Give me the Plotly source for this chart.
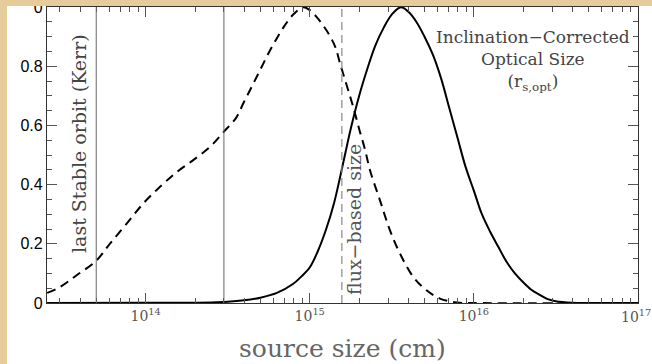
import plotly.graph_objects as go

# Source size (cm) and normalised distributions
dashed_size = [2.51e13, 3.01e13, 3.80e13, 4.98e13, 6.05e13, 7.66e13, 9.66e13,
               1.22e14, 1.55e14, 1.95e14, 2.47e14, 3.01e14, 3.55e14, 3.98e14,
               4.47e14, 5.01e14, 5.62e14, 6.31e14, 7.08e14, 7.94e14, 9.12e14,
               1.00e15, 1.10e15, 1.20e15, 1.30e15, 1.43e15, 1.53e15, 1.68e15,
               1.84e15, 2.02e15, 2.17e15, 2.33e15, 2.68e15, 3.08e15, 3.55e15,
               4.28e15, 5.15e15, 6.21e15, 7.85e15, 1.00e16, 1.0e17]
dashed_prob = [0.034, 0.054, 0.094, 0.142, 0.200, 0.268, 0.336,
               0.392, 0.443, 0.483, 0.528, 0.580, 0.625, 0.680,
               0.735, 0.790, 0.845, 0.895, 0.940, 0.975, 1.000,
               0.990, 0.967, 0.940, 0.911, 0.866, 0.810, 0.736,
               0.663, 0.580, 0.520, 0.449, 0.347, 0.246, 0.167,
               0.088, 0.043, 0.015, 0.002, 0.0, 0.0]

optical_size = [2.51e13, 1.0e14, 2.51e14, 3.16e14, 3.98e14, 5.01e14, 6.31e14,
                7.94e14, 8.91e14, 1.00e15, 1.12e15, 1.26e15, 1.41e15, 1.58e15,
                1.78e15, 2.00e15, 2.24e15, 2.51e15, 2.82e15, 3.16e15, 3.60e15,
                3.98e15, 4.47e15, 5.01e15, 5.62e15, 6.31e15, 7.08e15, 7.94e15,
                8.91e15, 1.00e16, 1.12e16, 1.26e16, 1.41e16, 1.58e16, 1.78e16,
                2.00e16, 2.24e16, 2.51e16, 2.82e16, 3.16e16, 3.98e16, 5.01e16,
                1.0e17]
optical_prob = [0.0, 0.0005, 0.002, 0.004, 0.009, 0.018, 0.034,
                0.065, 0.090, 0.120, 0.175, 0.250, 0.340, 0.460,
                0.590, 0.700, 0.790, 0.870, 0.930, 0.975, 1.000,
                0.985, 0.950, 0.900, 0.840, 0.760, 0.660, 0.560,
                0.460, 0.380, 0.300, 0.240, 0.190, 0.140, 0.100,
                0.070, 0.045, 0.028, 0.013, 0.006, 0.001, 0.0,
                0.0]

# Reference sizes (cm)
isco_sizes = [5.0e13, 3.0e14]
flux_size = 1.57e15

x_major = [1e14, 1e15, 1e16, 1e17]
x_major_text = ["10<sup>14</sup>", "10<sup>15</sup>", "10<sup>16</sup>", ""]
x_edge_text = "10<sup>17</sup>"
y_major = [0, 0.2, 0.4, 0.6, 0.8, 1.0]
y_major_text = ["0", "0.2", "0.4", "0.6", "0.8", "0"]

x_minor = [k * 10.0 ** d for d in range(13, 17) for k in range(2, 10)]

W, H = 652, 364
ML, MR, MT, MB = 47, 14, 7, 61
PW, PH = W - ML - MR, H - MT - MB


def px_x(p):
    return (p - ML) / PW


def px_y(p):
    return (H - MB - p) / PH


fig = go.Figure()

fig.add_trace(go.Scatter(
    x=dashed_size, y=dashed_prob, mode="lines",
    line=dict(color="black", width=2, dash="9px,6px", shape="spline", smoothing=1.0),
    showlegend=False, hoverinfo="skip"))
fig.add_trace(go.Scatter(
    x=optical_size, y=optical_prob, mode="lines",
    line=dict(color="black", width=2, shape="spline", smoothing=1.0),
    showlegend=False, hoverinfo="skip"))

shapes = []
for s in isco_sizes:
    shapes.append(dict(type="line", xref="x", yref="y", x0=s, x1=s, y0=0, y1=1,
                       line=dict(color="#666666", width=1)))
shapes.append(dict(type="line", xref="x", yref="y", x0=flux_size, x1=flux_size,
                   y0=0, y1=1, line=dict(color="#888888", width=1.2, dash="8px,5px")))
# parchment border strips
shapes.append(dict(type="rect", xref="paper", yref="paper", layer="above",
                   x0=px_x(0), x1=px_x(7), y0=px_y(H), y1=px_y(0),
                   fillcolor="#e6cc9b", line=dict(width=0)))
shapes.append(dict(type="rect", xref="paper", yref="paper", layer="above",
                   x0=px_x(0), x1=px_x(W), y0=px_y(6), y1=px_y(0),
                   fillcolor="#e6cc9b", line=dict(width=0)))

serif = "DejaVu Serif"
annotations = [
    dict(text="last Stable orbit (Kerr)", textangle=-90, xref="paper", yref="paper",
         x=px_x(79), y=px_y(144), showarrow=False, xanchor="center", yanchor="middle",
         font=dict(family=serif, size=19, color="#444444")),
    dict(text="flux\u2212based size", textangle=-90, xref="paper", yref="paper",
         x=px_x(354), y=px_y(220), showarrow=False, xanchor="center", yanchor="middle",
         font=dict(family=serif, size=19, color="#555555")),
    dict(text="Inclination\u2212Corrected<br>Optical Size<br>(r<sub>s,opt</sub>)",
         xref="paper", yref="paper", x=px_x(533), y=px_y(25), showarrow=False,
         xanchor="center", yanchor="top", align="center",
         font=dict(family=serif, size=17, color="#444444")),
    dict(text="source size (cm)", xref="paper", yref="paper",
         x=px_x(342), y=px_y(348), showarrow=False, xanchor="center", yanchor="middle",
         font=dict(family=serif, size=25, color="#666666")),
    # label of the last decade, kept inside the page edge
    dict(text=x_edge_text, xref="paper", yref="paper",
         x=px_x(W), y=px_y(316), showarrow=False, xanchor="right", yanchor="middle",
         xshift=1, font=dict(family=serif, size=14, color="#555555")),
]

fig.update_layout(
    width=W, height=H,
    margin=dict(l=ML, r=MR, t=MT, b=MB, pad=0, autoexpand=False),
    paper_bgcolor="white", plot_bgcolor="white",
    shapes=shapes, annotations=annotations,
    xaxis=dict(type="log", range=[13.399, 17.0005], showgrid=False, zeroline=False,
               automargin=False,
               showline=True, linecolor="#333333", linewidth=1.2, mirror="allticks",
               ticks="inside", ticklen=10, tickcolor="#555555", tickwidth=1,
               tickmode="array", tickvals=x_major, ticktext=x_major_text,
               tickfont=dict(family=serif, size=14, color="#555555"),
               minor=dict(ticks="inside", ticklen=5, tickcolor="#555555",
                          tickmode="array", tickvals=x_minor, showgrid=False)),
    yaxis=dict(range=[0, 1.0005], showgrid=False, zeroline=False,
               automargin=False,
               showline=True, linecolor="#333333", linewidth=1.2, mirror="allticks",
               ticks="inside", ticklen=10, tickcolor="#555555", tickwidth=1,
               tickmode="array", tickvals=y_major, ticktext=y_major_text,
               ticklabeloverflow="allow",
               tickfont=dict(family="Liberation Sans", size=16, color="black"),
               minor=dict(ticks="inside", ticklen=5, tickcolor="#555555",
                          dtick=0.05, showgrid=False)),
)

fig.write_html("out.html")
